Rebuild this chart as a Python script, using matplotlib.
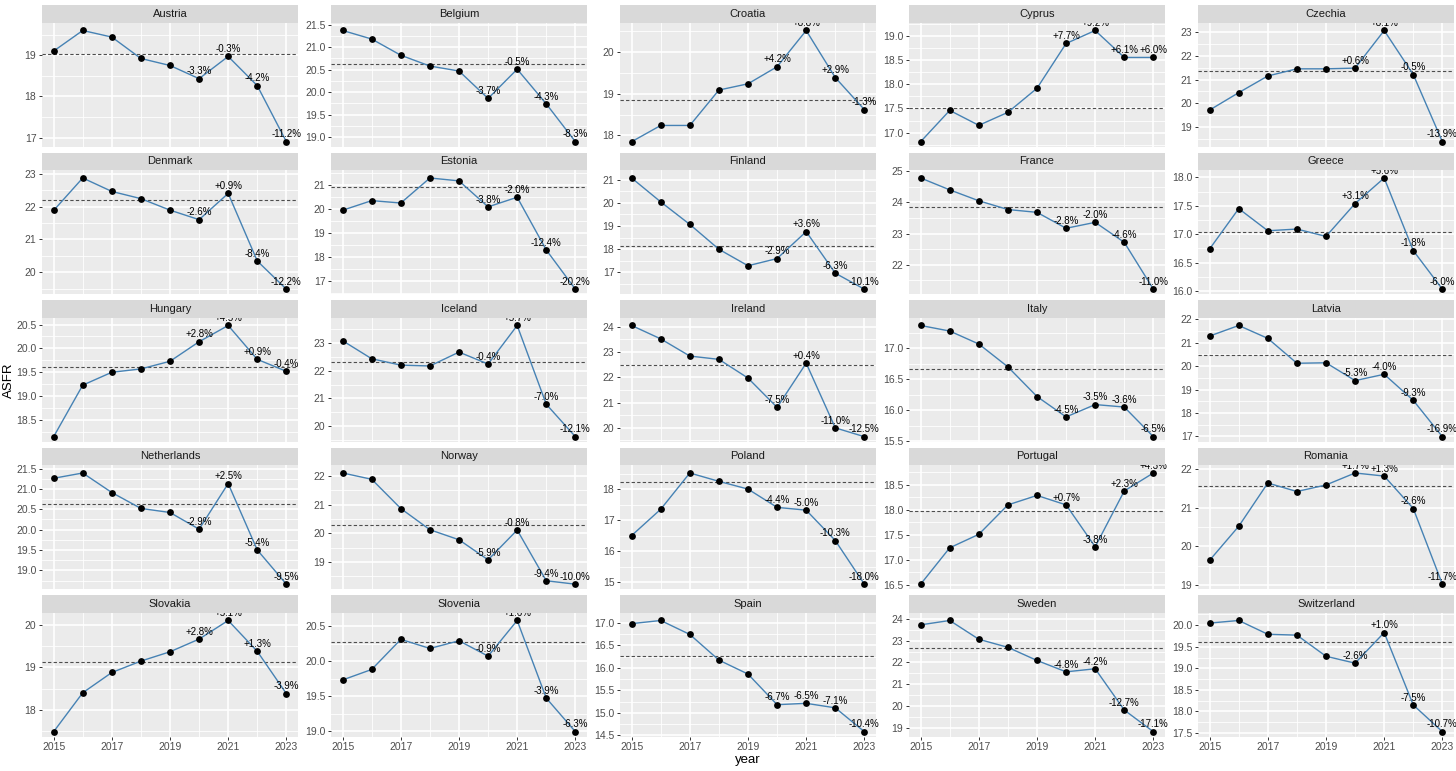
import numpy as np
import matplotlib.pyplot as plt

plt.rcParams['font.family'] = ['Liberation Sans', 'DejaVu Sans']

# Данные: ASFR по годам, базовая линия (пунктир) и подписи изменений 2020-2023
YEARS = [2015, 2016, 2017, 2018, 2019, 2020, 2021, 2022, 2023]
LABEL_YEARS = [2020, 2021, 2022, 2023]

COUNTRIES = ["Austria", "Belgium", "Croatia", "Cyprus", "Czechia",
             "Denmark", "Estonia", "Finland", "France", "Greece",
             "Hungary", "Iceland", "Ireland", "Italy", "Latvia",
             "Netherlands", "Norway", "Poland", "Portugal", "Romania",
             "Slovakia", "Slovenia", "Spain", "Sweden", "Switzerland"]

austria = [19.10, 19.60, 19.44, 18.92, 18.75, 18.43, 18.97, 18.26, 16.90]
belgium = [21.37, 21.18, 20.82, 20.58, 20.47, 19.86, 20.51, 19.74, 18.90]
croatia = [17.85, 18.24, 18.24, 19.09, 19.24, 19.65, 20.52, 19.39, 18.62]
cyprus = [16.81, 17.46, 17.15, 17.42, 17.92, 18.85, 19.12, 18.56, 18.56]
czechia = [19.72, 20.45, 21.15, 21.45, 21.45, 21.48, 23.06, 21.21, 18.39]
denmark = [21.88, 22.87, 22.46, 22.24, 21.89, 21.60, 22.40, 20.34, 19.48]
estonia = [19.94, 20.34, 20.24, 21.28, 21.16, 20.08, 20.48, 18.29, 16.66]
finland = [21.07, 20.04, 19.07, 18.00, 17.29, 17.60, 18.76, 16.97, 16.28]
france = [24.78, 24.40, 24.05, 23.77, 23.68, 23.17, 23.36, 22.72, 21.22]
greece = [16.74, 17.45, 17.06, 17.09, 16.96, 17.54, 17.99, 16.71, 16.03]
hungary = [18.15, 19.23, 19.50, 19.57, 19.73, 20.14, 20.48, 19.77, 19.52]
iceland = [23.08, 22.43, 22.20, 22.17, 22.67, 22.24, 23.63, 20.79, 19.62]
ireland = [24.05, 23.52, 22.84, 22.71, 21.97, 20.81, 22.56, 20.00, 19.65]
italy = [17.37, 17.28, 17.07, 16.70, 16.22, 15.89, 16.09, 16.05, 15.57]
latvia = [21.28, 21.73, 21.18, 20.12, 20.14, 19.38, 19.65, 18.54, 16.99]
netherlands = [21.26, 21.39, 20.91, 20.52, 20.42, 20.01, 21.13, 19.50, 18.66]
norway = [22.11, 21.89, 20.87, 20.13, 19.78, 19.08, 20.12, 18.35, 18.23]
poland = [16.51, 17.36, 18.53, 18.26, 18.01, 17.42, 17.33, 16.35, 14.94]
portugal = [16.51, 17.24, 17.51, 18.10, 18.29, 18.10, 17.26, 18.38, 18.74]
romania = [19.64, 20.52, 21.64, 21.42, 21.59, 21.90, 21.82, 20.98, 19.02]
slovakia = [17.48, 18.40, 18.88, 19.15, 19.37, 19.67, 20.11, 19.38, 18.38]
slovenia = [19.73, 19.88, 20.31, 20.18, 20.29, 20.07, 20.58, 19.47, 18.99]
spain = [16.98, 17.05, 16.74, 16.17, 15.86, 15.18, 15.21, 15.11, 14.58]
sweden = [23.72, 23.92, 23.06, 22.69, 22.09, 21.57, 21.71, 19.82, 18.83]
switzerland = [20.05, 20.11, 19.79, 19.77, 19.28, 19.12, 19.83, 18.15, 17.53]

BASELINE = [19.03, 20.62, 18.86, 17.50, 21.35,
            22.20, 20.89, 18.13, 23.84, 17.03,
            19.60, 22.33, 22.48, 16.66, 20.46,
            20.62, 20.28, 18.24, 17.97, 21.55,
            19.14, 20.27, 16.26, 22.66, 19.61]

LABELS = [
    ["-3.3%", "-0.3%", "-4.2%", "-11.2%"],
    ["-3.7%", "-0.5%", "-4.3%", "-8.3%"],
    ["+4.2%", "+8.8%", "+2.9%", "-1.3%"],
    ["+7.7%", "+9.2%", "+6.1%", "+6.0%"],
    ["+0.6%", "+8.1%", "-0.5%", "-13.9%"],
    ["-2.6%", "+0.9%", "-8.4%", "-12.2%"],
    ["-3.8%", "-2.0%", "-12.4%", "-20.2%"],
    ["-2.9%", "+3.6%", "-6.3%", "-10.1%"],
    ["-2.8%", "-2.0%", "-4.6%", "-11.0%"],
    ["+3.1%", "+5.6%", "-1.8%", "-6.0%"],
    ["+2.8%", "+4.5%", "+0.9%", "-0.4%"],
    ["-0.4%", "+5.7%", "-7.0%", "-12.1%"],
    ["-7.5%", "+0.4%", "-11.0%", "-12.5%"],
    ["-4.5%", "-3.5%", "-3.6%", "-6.5%"],
    ["-5.3%", "-4.0%", "-9.3%", "-16.9%"],
    ["-2.9%", "+2.5%", "-5.4%", "-9.5%"],
    ["-5.9%", "-0.8%", "-9.4%", "-10.0%"],
    ["-4.4%", "-5.0%", "-10.3%", "-18.0%"],
    ["+0.7%", "-3.8%", "+2.3%", "+4.3%"],
    ["+1.7%", "+1.3%", "-2.6%", "-11.7%"],
    ["+2.8%", "+5.1%", "+1.3%", "-3.9%"],
    ["-0.9%", "+1.6%", "-3.9%", "-6.3%"],
    ["-6.7%", "-6.5%", "-7.1%", "-10.4%"],
    ["-4.8%", "-4.2%", "-12.7%", "-17.1%"],
    ["-2.6%", "+1.0%", "-7.5%", "-10.7%"],
]

# шаг меток оси y для каждой панели
YSTEP = [1, 0.5, 1, 0.5, 1,
         1, 1, 1, 1, 0.5,
         0.5, 1, 1, 0.5, 1,
         0.5, 1, 1, 0.5, 1,
         1, 0.5, 0.5, 1, 0.5]

XTICKS = [2015, 2017, 2019, 2021, 2023]

SERIES = [austria, belgium, croatia, cyprus, czechia, denmark, estonia, finland,
          france, greece, hungary, iceland, ireland, italy, latvia, netherlands,
          norway, poland, portugal, romania, slovakia, slovenia, spain, sweden,
          switzerland]

W, H = 1456, 771
fig = plt.figure(figsize=(W / 100, H / 100), dpi=100)

PANEL_W = 256
GAP = 33
LEFT0 = 42
ROW_PITCH = 147.5
STRIP_TOP0 = 5
STRIP_H = 17.7
PANEL_H = 124


def frac_box(x0, y_top, w, h):
    return [x0 / W, 1 - (y_top + h) / H, w / W, h / H]


for i, country in enumerate(COUNTRIES):
    r, c = divmod(i, 5)
    x0 = LEFT0 + c * (PANEL_W + GAP)
    strip_top = STRIP_TOP0 + r * ROW_PITCH

    ax = fig.add_axes(frac_box(x0, strip_top + STRIP_H, PANEL_W, PANEL_H))
    ax.set_facecolor("#EBEBEB")
    for s in ax.spines.values():
        s.set_visible(False)

    vals = np.array(SERIES[i])
    lo, hi = min(vals.min(), BASELINE[i]), max(vals.max(), BASELINE[i])
    rng = hi - lo
    ax.set_ylim(lo - 0.045 * rng, hi + 0.07 * rng)
    ax.set_xlim(2014.6, 2023.4)

    step = YSTEP[i]
    y0, y1 = ax.get_ylim()
    yt = np.arange(np.ceil(y0 / step) * step, y1, step)
    ax.set_yticks(yt)
    minors = [t for t in np.append(yt - step / 2, yt[-1] + step / 2) if y0 < t < y1]
    ax.set_yticks(minors, minor=True)
    fmt = "{:.1f}" if step < 1 else "{:.0f}"
    ax.set_yticklabels([fmt.format(t) for t in yt])

    ax.set_xticks(XTICKS)
    ax.set_xticks([2016, 2018, 2020, 2022], minor=True)
    ax.grid(which="major", color="white", linewidth=1.2)
    ax.grid(which="minor", color="white", linewidth=0.6)
    ax.set_axisbelow(True)
    ax.tick_params(axis="y", which="major", length=2.5, width=0.7, color="#333333",
                   labelsize=7.5, labelcolor="#4D4D4D", pad=1.5)
    ax.tick_params(which="minor", length=0)
    if r == 4:
        ax.tick_params(axis="x", which="major", length=2.5, width=0.7, color="#333333",
                       labelsize=7.5, labelcolor="#4D4D4D", pad=1.5)
    else:
        ax.tick_params(axis="x", which="major", length=0, labelbottom=False)

    ax.axhline(BASELINE[i], color="#4D4D4D", linestyle=(0, (3, 2)), linewidth=0.8)
    ax.plot(YEARS, vals, color="#4682B4", linewidth=1.0, zorder=3)
    ax.scatter(YEARS, vals, s=24, color="black", zorder=4, linewidths=0)

    for yr, lab in zip(LABEL_YEARS, LABELS[i]):
        v = vals[YEARS.index(yr)]
        ax.annotate(lab, (yr, v), xytext=(0, 1.6), textcoords="offset points",
                    ha="center", va="bottom", fontsize=7, color="black",
                    annotation_clip=False, clip_on=False, zorder=5)

    # полоска с названием страны рисуется поверх панели (как в ggplot)
    sax = fig.add_axes(frac_box(x0, strip_top, PANEL_W, STRIP_H))
    sax.set_facecolor("#D9D9D9")
    sax.set_xticks([])
    sax.set_yticks([])
    for s in sax.spines.values():
        s.set_visible(False)
    sax.text(0.5, 0.5, country, ha="center", va="center", fontsize=8,
             color="#1A1A1A", transform=sax.transAxes)

fig.text(9 / W, 1 - 380 / H, "ASFR", rotation=90, ha="center", va="center",
         fontsize=9.5, color="black")
fig.text((LEFT0 + 2 * (PANEL_W + GAP) + PANEL_W / 2) / W, 1 - 760 / H, "year",
         ha="center", va="center", fontsize=9.5, color="black")

fig.savefig("out.png", dpi=100, facecolor="white")
